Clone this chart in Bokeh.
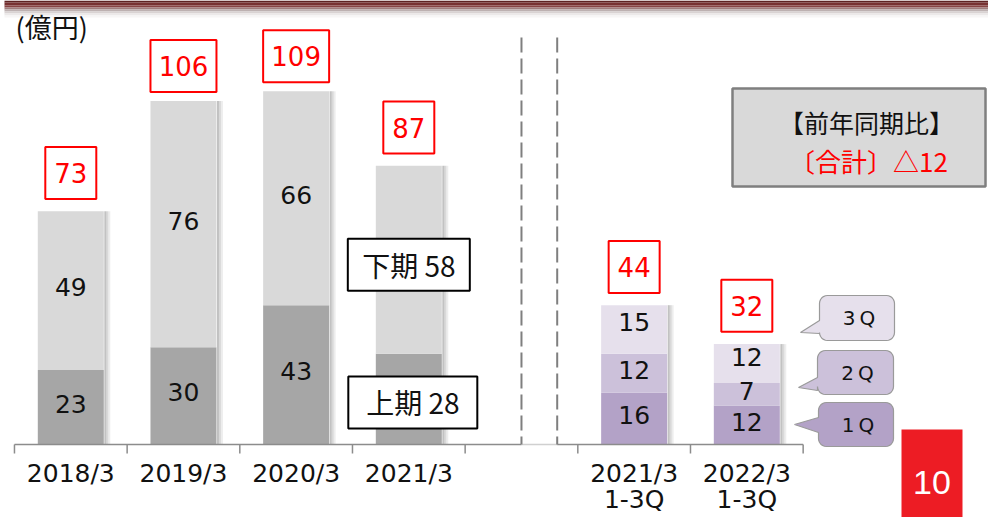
import numpy as np
from bokeh.plotting import figure
from bokeh.models import Range1d
from bokeh.core.properties import value
from bokeh.embed import file_html
from bokeh.resources import INLINE

# ---------------- data ----------------
years = ["2018/3", "2019/3", "2020/3", "2021/3"]
first_half = [23, 30, 43, 28]      # 上期
second_half = [49, 76, 66, 58]     # 下期
annual_total = [73, 106, 109, 87]

period_line1 = ["2021/3", "2022/3"]
period_line2 = ["1-3Q", "1-3Q"]
q1 = [16, 12]
q2 = [12, 7]
q3 = [15, 12]
ytd_total = [44, 32]

half_names = ["上期", "下期"]
quarter_names = ["1Q", "2Q", "3Q"]
unit_label = "(億円)"
yoy_title = "【前年同期比】"
yoy_text = "〔合計〕△12"
page_no = "10"

# ---------------- layout helpers (page pixels -> data) ----------------
W, H = 988, 517
PX_PER_CAT = 112.67
X0_PX = 70.3
BASE_PX = 444.0
PX_PER_UNIT = 3.24


def X(px):
    return (px - X0_PX) / PX_PER_CAT


def Y(py):
    return (BASE_PX - py) / PX_PER_UNIT


p = figure(width=W, height=H, x_range=Range1d(X(0), X(W)),
           y_range=Range1d(Y(H), Y(0)), output_backend="svg",
           toolbar_location=None, min_border=0)
p.axis.visible = False
p.grid.visible = False
p.outline_line_color = None
p.background_fill_color = "white"
p.border_fill_color = "white"

NUM_FONT = value("DejaVu Sans")
JP_FONT = value("Noto Sans CJK JP")
LIFT = 3.5 / PX_PER_UNIT   # segment labels sit slightly above the middle

# top band with shadow
band = [(0, 2, "#5e2222"), (2, 5, "#773232"), (5, 7, "#874444"), (7, 9, "#a07e7e"),
        (9, 11, "#bdb1b1"), (11, 13, "#d9d3d3"), (13, 15, "#ece9e9"), (15, 17, "#f7f6f6")]
for (t0, t1, c) in band:
    p.quad(left=X(4), right=X(W), top=Y(t0), bottom=Y(t1), fill_color=c, line_color=None)

# ---------------- positions ----------------
left_x = np.arange(len(years), dtype=float)
right_x = np.arange(len(period_line1), dtype=float) + len(years) + 1
bw = 66 / PX_PER_CAT
lo = np.array(first_half, dtype=float)
up = np.array(second_half, dtype=float)
a = np.array(q1, dtype=float)
b = np.array(q2, dtype=float)
c3 = np.array(q3, dtype=float)
left_top = lo + up
right_top = a + b + c3

# bar shadows
for (dx, al) in [(1.5, 0.24), (3.5, 0.15), (5.5, 0.07)]:
    off = (66 / 2 + dx) / PX_PER_CAT
    p.rect(x=left_x + off, y=left_top / 2, width=2, height=left_top, width_units="screen",
           fill_color="black", fill_alpha=al, line_color=None)
    p.rect(x=right_x + off, y=right_top / 2, width=2, height=right_top, width_units="screen",
           fill_color="black", fill_alpha=al, line_color=None)

# left stacked bars
p.vbar(x=left_x, bottom=0, top=lo, width=bw, fill_color="#a6a6a6", line_color=None)
p.vbar(x=left_x, bottom=lo, top=lo + up, width=bw, fill_color="#d9d9d9", line_color=None)

# right stacked bars
p.vbar(x=right_x, bottom=0, top=a, width=bw, fill_color="#b3a2c7", line_color=None)
p.vbar(x=right_x, bottom=a, top=a + b, width=bw, fill_color="#ccc1da", line_color=None)
p.vbar(x=right_x, bottom=a + b, top=a + b + c3, width=bw, fill_color="#e6e0ec", line_color=None)

# segment labels (2018/3 - 2020/3)
n_lab = len(years) - 1
seg_x = list(left_x[:n_lab]) * 2
seg_y = list(lo[:n_lab] / 2 + LIFT) + list(lo[:n_lab] + up[:n_lab] / 2 + LIFT)
seg_t = [str(v) for v in first_half[:n_lab]] + [str(v) for v in second_half[:n_lab]]
p.text(x=seg_x, y=seg_y, text=seg_t, text_align="center", text_baseline="middle",
       text_font=NUM_FONT, text_font_size="25px", text_color="#111111")

rx = list(right_x) * 3
ry = list(a / 2 + LIFT) + list(a + b / 2 + LIFT) + list(a + b + c3 / 2 + 2 * LIFT)
rt = [str(v) for v in q1] + [str(v) for v in q2] + [str(v) for v in q3]
p.text(x=rx, y=ry, text=rt, text_align="center", text_baseline="middle",
       text_font=NUM_FONT, text_font_size="25px", text_color="#111111")

# 2021/3 half boxes
last = len(years) - 1
hb_x = [left_x[last] + 4 / PX_PER_CAT, left_x[last]]
hb_y = [lo[last] / 2 - 1.0, lo[last] + up[last] / 2 - 1.5]
hb_t = [f"{half_names[0]} {first_half[last]}", f"{half_names[1]} {second_half[last]}"]
p.rect(x=hb_x, y=hb_y, width=[129, 122], height=52, width_units="screen",
       height_units="screen", fill_color="white", line_color="black", line_width=2)
p.text(x=hb_x, y=hb_y, text=hb_t, text_align="center", text_baseline="middle",
       text_font=JP_FONT, text_font_size="28px", text_color="#111111")

# totals (red boxes)
tot_x = list(left_x) + list(right_x)
tot_v = annual_total + ytd_total
tot_y = [v + 35 / PX_PER_UNIT for v in tot_v]
tot_w = [21 + 15 * len(str(v)) for v in tot_v]
p.rect(x=tot_x, y=tot_y, width=tot_w, height=52, width_units="screen", height_units="screen",
       fill_color="white", line_color="#ff0000", line_width=2)
p.text(x=tot_x, y=tot_y, text=[str(v) for v in tot_v], text_align="center",
       text_baseline="middle", text_font=NUM_FONT, text_font_size="26px", text_color="#ff0000")

# ---------------- axis ----------------
ax_l = -0.5
ax_r = right_x[-1] + 0.5
gap_l = left_x[-1] + 1
gap_r = X(556.7)
p.segment(x0=[ax_l, gap_r], x1=[gap_l, ax_r], y0=0, y1=0, line_color="#8c8c8c", line_width=1.5)
p.segment(x0=[gap_l], x1=[gap_r], y0=0, y1=0, line_color="#d0d0d0", line_width=1.5)
ticks = np.arange(ax_l, ax_r + 0.01, 1.0)
p.segment(x0=ticks, x1=ticks, y0=0, y1=Y(453), line_color="#8c8c8c", line_width=1.5)
# separators
p.segment(x0=[gap_l, gap_r], x1=[gap_l, gap_r], y0=Y(37), y1=0, line_color="#7f7f7f",
          line_width=2, line_dash="15 6")

lab_x = list(left_x) + list(right_x)
lab_1 = years + period_line1
p.text(x=lab_x, y=Y(473), text=lab_1, text_align="center", text_baseline="middle",
       text_font=NUM_FONT, text_font_size="25px", text_color="#111111")
p.text(x=list(right_x), y=Y(499), text=period_line2, text_align="center",
       text_baseline="middle", text_font=NUM_FONT, text_font_size="25px", text_color="#111111")

# unit label
p.text(x=[X(15)], y=[Y(26)], text=[unit_label], text_align="left", text_baseline="middle",
       text_font=JP_FONT, text_font_size="27px", text_color="#111111")

# YoY box
p.quad(left=X(732), right=X(985), top=Y(88), bottom=Y(186), fill_color="#d9d9d9",
       line_color="#7f7f7f", line_width=2.5)
p.text(x=[X(866)], y=[Y(121)], text=[yoy_title], text_align="center", text_baseline="middle",
       text_font=JP_FONT, text_font_size="25px", text_color="#111111")
p.text(x=[X(868)], y=[Y(160)], text=[yoy_text], text_align="center", text_baseline="middle",
       text_font=JP_FONT, text_font_size="26px", text_color="#ff0000")


# callouts
def callout(x0, y0, x1, y1, r, tip, bt, bb):
    pts = [(x0, bt), tip, (x0, bb)]

    def arc(cx, cy, a0, a1):
        for t in np.linspace(np.radians(a0), np.radians(a1), 7):
            pts.append((cx + r * np.cos(t), cy + r * np.sin(t)))
    arc(x0 + r, y1 - r, 180, 90)
    arc(x1 - r, y1 - r, 90, 0)
    arc(x1 - r, y0 + r, 0, -90)
    arc(x0 + r, y0 + r, -90, -180)
    return [X(q[0]) for q in pts], [Y(q[1]) for q in pts]


co_specs = [
    (818, 402, 893, 446, (794, 424), 417, 432, "#b3a2c7"),
    (817, 350, 893, 394, (798, 387), 377, 390, "#ccc1da"),
    (819, 295, 894, 340, (800, 332), 320, 333, "#e6e0ec"),
]
xs, ys = [], []
for (x0, y0, x1, y1, tip, bt, bb, col) in co_specs:
    cx, cy = callout(x0, y0, x1, y1, 8, tip, bt, bb)
    xs.append(cx)
    ys.append(cy)
p.patches(xs=xs, ys=ys, fill_color=[s[7] for s in co_specs], line_color="#9a9a9a",
          line_width=1.2)
p.text(x=[X((s[0] + s[2]) / 2 + 2) for s in co_specs],
       y=[Y((s[1] + s[3]) / 2) for s in co_specs], text=["\u2009".join(q) for q in quarter_names],
       text_align="center", text_baseline="middle", text_font=NUM_FONT,
       text_font_size="20px", text_color="#111111")

# page number
p.quad(left=X(901), right=X(962), top=Y(429), bottom=Y(H + 5), fill_color="#ed1c24",
       line_color=None)
p.text(x=[X(931.5)], y=[Y(482)], text=[page_no], text_align="center", text_baseline="middle",
       text_font=value("Liberation Sans"), text_font_size="34px", text_color="white")

open("out.html", "w").write(file_html(p, INLINE))
